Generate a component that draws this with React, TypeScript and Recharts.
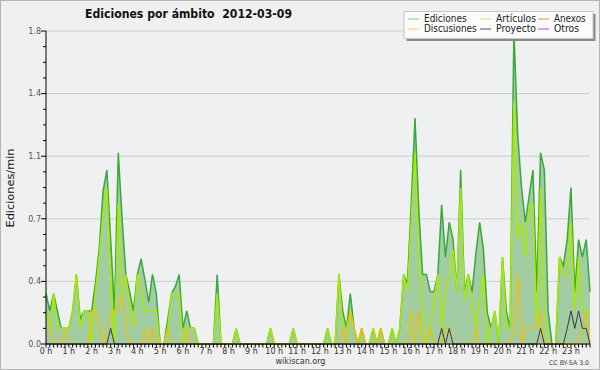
import React from "react";
import { ComposedChart, Area, Line, XAxis, YAxis, CartesianGrid } from "recharts";

// one value every 10 minutes, 6 per hour
const HOUR_LABELS = [
  "0 h", "1 h", "2 h", "3 h", "4 h", "5 h", "6 h", "7 h", "8 h", "9 h", "10 h", "11 h",
  "12 h", "13 h", "14 h", "15 h", "16 h", "17 h", "18 h", "19 h", "20 h", "21 h", "22 h", "23 h",
];

const Y_MAJOR = [0, 0.36, 0.72, 1.08, 1.44, 1.8];

const EDICIONES = [
  0.29, 0.19, 0.29, 0.19, 0.09, 0.09, 0.09, 0.19, 0.40, 0.14, 0.19, 0.19,
  0.19, 0.35, 0.55, 0.88, 1.00, 0.60, 0.19, 1.10, 0.72, 0.40, 0.30, 0.19,
  0.40, 0.49, 0.37, 0.24, 0.40, 0.29, 0, 0, 0.14, 0.29, 0.33, 0.40,
  0.09, 0.19, 0.09, 0.09, 0, 0, 0, 0, 0, 0.40, 0, 0,
  0, 0, 0.09, 0, 0, 0, 0, 0, 0, 0, 0, 0.09,
  0, 0, 0, 0, 0, 0.09, 0, 0, 0, 0, 0, 0,
  0, 0, 0.09, 0, 0, 0.40, 0.19, 0.09, 0.29, 0.09, 0, 0.09,
  0, 0, 0.09, 0, 0.09, 0, 0, 0.09, 0, 0.09, 0.40, 0.35,
  0.80, 1.30, 0.77, 0.40, 0.40, 0.30, 0.30, 0.40, 0.80, 0.50, 0.70, 0.60,
  0.30, 1.00, 0.30, 0.40, 0.30, 0.52, 0.70, 0.54, 0.18, 0.09, 0.19, 0,
  0.50, 0.19, 0.09, 1.80, 1.20, 0.90, 0.70, 0.85, 1.00, 0.30, 1.10, 1.00,
  0.19, 0, 0, 0.50, 0.45, 0.60, 0.90, 0.30, 0.60, 0.50, 0.60, 0.30,
];

const ARTICULOS = [
  0.19, 0.09, 0.29, 0.09, 0.09, 0.09, 0.09, 0.19, 0.40, 0.09, 0.19, 0.19,
  0, 0.30, 0.50, 0.75, 0.90, 0.35, 0, 0.81, 0.29, 0.40, 0.19, 0.09,
  0.40, 0.29, 0.19, 0.19, 0.19, 0.19, 0, 0, 0.09, 0.29, 0.29, 0.29,
  0, 0.09, 0.09, 0.09, 0, 0, 0, 0, 0, 0.29, 0, 0,
  0, 0, 0.09, 0, 0, 0, 0, 0, 0, 0, 0, 0.09,
  0, 0, 0, 0, 0, 0.09, 0, 0, 0, 0, 0, 0,
  0, 0, 0.09, 0, 0, 0.40, 0.09, 0.09, 0.19, 0.09, 0, 0.09,
  0, 0, 0.09, 0, 0.09, 0, 0, 0.09, 0, 0.09, 0.40, 0.30,
  0.70, 1.10, 0.50, 0.19, 0, 0.09, 0.25, 0.40, 0.09, 0.30, 0.40, 0.54,
  0.30, 0.90, 0.25, 0.40, 0.23, 0.09, 0.25, 0.40, 0, 0.09, 0.19, 0,
  0.50, 0.09, 0.09, 1.40, 0.60, 0.70, 0.50, 0.80, 0.80, 0.09, 0.90, 0.19,
  0, 0, 0, 0.50, 0.40, 0.40, 0.70, 0.19, 0.50, 0.19, 0.19, 0.19,
];

const DISCUSIONES = [
  0.09, 0.09, 0, 0, 0, 0.09, 0, 0, 0, 0, 0, 0,
  0.19, 0.19, 0.09, 0, 0.09, 0.19, 0.19, 0.19, 0.29, 0.09, 0, 0,
  0, 0, 0.09, 0, 0.09, 0, 0, 0, 0.09, 0, 0, 0,
  0, 0.09, 0, 0, 0, 0, 0, 0, 0, 0, 0, 0,
  0, 0, 0, 0, 0, 0, 0, 0, 0, 0, 0, 0,
  0, 0, 0, 0, 0, 0, 0, 0, 0, 0, 0, 0,
  0, 0, 0, 0, 0, 0, 0.09, 0, 0.19, 0.09, 0, 0.09,
  0, 0, 0, 0, 0.09, 0, 0, 0, 0, 0, 0, 0,
  0.19, 0, 0.19, 0, 0, 0.09, 0, 0, 0, 0.09, 0.09, 0,
  0, 0, 0, 0, 0, 0.09, 0, 0, 0, 0, 0, 0,
  0, 0, 0, 0.09, 0.40, 0, 0.09, 0.09, 0.09, 0.09, 0.19, 0,
  0, 0, 0, 0, 0, 0, 0, 0, 0, 0.09, 0.19, 0,
];

const PROYECTO = [
  0, 0, 0, 0, 0, 0, 0, 0, 0, 0, 0, 0,
  0, 0, 0, 0, 0, 0.09, 0, 0, 0, 0, 0, 0,
  0, 0, 0, 0, 0, 0, 0, 0, 0, 0, 0, 0,
  0, 0, 0, 0, 0, 0, 0, 0, 0, 0, 0, 0,
  0, 0, 0, 0, 0, 0, 0, 0, 0, 0, 0, 0,
  0, 0, 0, 0, 0, 0, 0, 0, 0, 0, 0, 0,
  0, 0, 0, 0, 0, 0, 0, 0, 0, 0, 0, 0,
  0, 0, 0, 0, 0, 0, 0, 0, 0, 0, 0, 0,
  0, 0, 0, 0, 0, 0, 0, 0, 0.09, 0, 0.09, 0,
  0, 0, 0, 0, 0, 0, 0, 0, 0, 0, 0, 0,
  0, 0, 0, 0, 0, 0, 0, 0, 0, 0, 0.09, 0,
  0, 0, 0, 0, 0, 0.09, 0.19, 0.09, 0.19, 0.09, 0.09, 0,
];

const LEGEND_ROWS = [
  ["Ediciones", "Artículos", "Anexos"],
  ["Discusiones", "Proyecto", "Otros"],
];

const LEGEND_COLORS: Record<string, string> = {
  Ediciones: "#7fcc7f",
  "Artículos": "#c8ee50",
  Anexos: "#ef8452",
  Discusiones: "#f8d050",
  Proyecto: "#505050",
  Otros: "#9a4fe6",
};

// widths the labels take in the original render
const LEGEND_TEXT_W: Record<string, number> = {
  Ediciones: 42.7,
  "Artículos": 40,
  Anexos: 31.7,
  Discusiones: 52.7,
  Proyecto: 40,
  Otros: 25,
};

const data = EDICIONES.map((v, i) => ({
  i,
  ed: v,
  art: ARTICULOS[i],
  disc: DISCUSIONES[i],
  proj: PROYECTO[i],
}));

const xTicks = data.map((d) => d.i);
const yTicks = Array.from({ length: 21 }, (_, k) => Math.round(k * 9) / 100);

const XTick = (props: any) => {
  const { x, y, payload } = props;
  const v = payload.value as number;
  return (
    <g>
      <line x1={x} x2={x} y1={y} y2={y + 3.5} stroke="#000" strokeWidth={1} />
      {v % 6 === 0 && (
        <text x={x} y={y + 9.5} textAnchor="middle" fontSize={8} fill="#333">
          {HOUR_LABELS[v / 6]}
        </text>
      )}
    </g>
  );
};

const YTick = (props: any) => {
  const { x, y, payload } = props;
  const v = payload.value as number;
  const major = Math.round(v * 100) % 36 === 0;
  return (
    <g>
      <line x1={x - (major ? 5 : 3)} x2={x} y1={y} y2={y} stroke="#000" strokeWidth={1} />
      {major && (
        <text x={x - 5} y={y} dy="0.35em" textAnchor="end" fontSize={8} fill="#555">
          {v.toFixed(1)}
        </text>
      )}
    </g>
  );
};

const LEGEND_COL_X = [408, 480, 538];
const LEGEND_ROW_Y = [19, 29];

export default function App() {
  return (
    <div
      style={{
        position: "absolute",
        left: 0,
        top: 0,
        width: 600,
        height: 370,
        boxSizing: "border-box",
        border: "1px solid #b5b5b5",
        background: "#f0f0f0",
        fontFamily: "'DejaVu Sans', sans-serif",
      }}
    >
      <ComposedChart
        width={598}
        height={368}
        data={data}
        margin={{ top: 30, right: 9, left: 0, bottom: 0 }}
      >
        <CartesianGrid
          vertical={false}
          horizontalValues={Y_MAJOR}
          stroke="#cdcdcd"
          fill="#eef0f2"
          fillOpacity={1}
        />
        <XAxis
          dataKey="i"
          type="number"
          domain={[0, 143]}
          ticks={xTicks}
          interval={0}
          height={25}
          tickSize={0}
          tickMargin={0}
          tickLine={false}
          axisLine={{ stroke: "#000" }}
          tick={<XTick />}
        />
        <YAxis
          type="number"
          domain={[0, 1.8]}
          ticks={yTicks}
          interval={0}
          width={45}
          tickSize={0}
          tickMargin={0}
          tickLine={false}
          axisLine={{ stroke: "#000" }}
          tick={<YTick />}
        />
        <Area
          type="linear"
          dataKey="ed"
          stroke="#3aa83a"
          strokeWidth={1.5}
          fill="#a2cca2"
          fillOpacity={1}
          dot={false}
          activeDot={false}
          isAnimationActive={false}
        />
        <Line
          type="linear"
          dataKey="art"
          stroke="#aaea00"
          strokeWidth={1.5}
          dot={false}
          activeDot={false}
          isAnimationActive={false}
        />
        <Line
          type="linear"
          dataKey="disc"
          stroke="#f0c000"
          strokeWidth={1.3}
          dot={false}
          activeDot={false}
          isAnimationActive={false}
        />
        <Line
          type="linear"
          dataKey="proj"
          stroke="#3a3a3a"
          strokeWidth={1}
          dot={false}
          activeDot={false}
          isAnimationActive={false}
        />
      </ComposedChart>

      <svg
        width={600}
        height={370}
        style={{ position: "absolute", left: -1, top: -1, pointerEvents: "none" }}
      >
        <text
          x={85}
          y={18}
          fontSize={12.5}
          fontWeight="bold"
          fill="#111"
          textLength={207}
          lengthAdjust="spacingAndGlyphs"
          xmlSpace="preserve"
          style={{ whiteSpace: "pre" }}
        >
          {"Ediciones por ámbito  2012-03-09"}
        </text>
        <text
          transform="translate(13.5,188) rotate(-90)"
          textAnchor="middle"
          fontSize={11}
          fill="#111"
          textLength={79}
          lengthAdjust="spacingAndGlyphs"
        >
          Ediciones/min
        </text>

        <rect x={406.5} y={14} width={189} height={27} fill="#8a8a8a" />
        <rect x={404} y={11.5} width={189} height={27} fill="#fbfbfb" stroke="#c6c6c6" />
        {LEGEND_ROWS.map((row, r) =>
          row.map((name, c) => (
            <g key={name}>
              <line
                x1={LEGEND_COL_X[c]}
                x2={LEGEND_COL_X[c] + 11}
                y1={LEGEND_ROW_Y[r]}
                y2={LEGEND_ROW_Y[r]}
                stroke={LEGEND_COLORS[name]}
                strokeWidth={1}
              />
              <text
                x={LEGEND_COL_X[c] + 16}
                y={LEGEND_ROW_Y[r] + 3}
                fontSize={10}
                fill="#222"
                textLength={LEGEND_TEXT_W[name]}
                lengthAdjust="spacingAndGlyphs"
              >
                {name}
              </text>
            </g>
          ))
        )}

        <text x={300.5} y={364} textAnchor="middle" fontSize={8} fill="#333">
          wikiscan.org
        </text>
        <text x={589} y={365} textAnchor="end" fontSize={6.5} fill="#444" textLength={40} lengthAdjust="spacingAndGlyphs">
          CC BY-SA 3.0
        </text>
      </svg>
    </div>
  );
}
